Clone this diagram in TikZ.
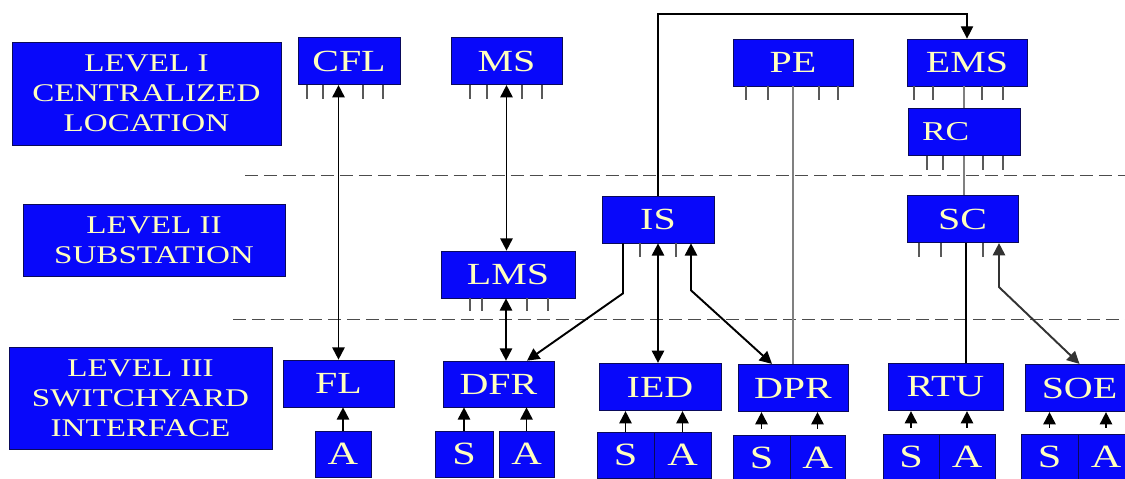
\documentclass[tikz,border=0pt]{standalone}
\usepackage{fontspec}
\setmainfont{Liberation Serif}[FakeStretch=1.3]
\usepackage{xcolor}
\usetikzlibrary{calc, arrows.meta}

\definecolor{boxblue}{RGB}{8,8,250}
\definecolor{boxedge}{RGB}{10,10,90}
\definecolor{boxtext}{RGB}{255,255,190}

\begin{document}
\begin{tikzpicture}[x=0.02cm, y=-0.02cm, >={Triangle[length=7pt,width=7pt]},
    box/.style={draw=boxedge, fill=boxblue, text=boxtext, inner sep=0pt,
        minimum height=0.95cm, font=\fontsize{17.5}{19}\selectfont},
    lvl/.style={box, align=center, font=\fontsize{14.5}{17}\selectfont},
    sa/.style={box, minimum height=0.92cm, font=\fontsize{18.5}{20}\selectfont},
    stub/.style={draw=gray!70!black, line width=0.6pt},
    link/.style={line width=0.6pt},
    arr/.style={line width=1.1pt, ->},
    twoway/.style={line width=1.1pt, <->},
    divider/.style={gray!60!black, line width=0.5pt, dash pattern=on 7.4pt off 3.4pt}]

    % =================================================================
    % 0. KHUNG HINH
    % =================================================================
    \useasboundingbox (0,0) rectangle (1125,479);
    \clip (0,0) rectangle (1125,479);

    % =================================================================
    % 1. DUONG PHAN CACH CAC CAP
    % =================================================================
    \draw[divider] (245,175) -- (1125,175);
    \draw[divider] (233,319) -- (1125,319);

    % =================================================================
    % 2. NHAN CAC CAP
    % =================================================================
    \node[lvl, minimum width=5.38cm, minimum height=2.06cm] (lvlI) at (146.5,93.5) {LEVEL I\\CENTRALIZED\\LOCATION};
    \node[lvl, minimum width=5.24cm, minimum height=1.44cm] (lvlII) at (154,240) {LEVEL II\\SUBSTATION};
    \node[lvl, minimum width=5.26cm, minimum height=2.04cm] (lvlIII) at (140.5,398) {LEVEL III\\SWITCHYARD\\INTERFACE};

    % =================================================================
    % 3. CAP I
    % =================================================================
    \node[box, minimum width=2.04cm] (cfl) at (349,61) {CFL};
    \node[box, minimum width=2.22cm] (ms) at (506.5,61) {MS};
    \node[box, minimum width=2.40cm, minimum height=0.94cm] (pe) at (793,62.5) {PE};
    \node[box, minimum width=2.40cm, minimum height=0.94cm] (ems) at (967,62.5) {EMS};
    \node[box, text width=1.68cm, inner xsep=0.28cm, align=left,
          font=\fontsize{15.5}{17}\selectfont] (rc) at (964,132) {RC};

    % =================================================================
    % 4. CAP II
    % =================================================================
    \node[box, minimum width=2.68cm, minimum height=0.94cm] (lms) at (508,274.5) {LMS};
    \node[box, minimum width=2.24cm, minimum height=0.94cm] (is) at (658,219.5) {IS};
    \node[box, minimum width=2.22cm] (sc) at (962.5,219) {SC};

    % =================================================================
    % 5. CAP III
    % =================================================================
    \node[box, minimum width=2.22cm, minimum height=0.94cm] (fl) at (338.5,383.5) {FL};
    \node[box, minimum width=2.22cm, minimum height=0.92cm] (dfr) at (498.5,384) {DFR};
    \node[box, minimum width=2.44cm] (ied) at (660,387) {IED};
    \node[box, minimum width=2.20cm] (dpr) at (793,388) {DPR};
    \node[box, minimum width=2.30cm] (rtu) at (945.5,387) {RTU};
    \node[box, minimum width=2.18cm] (soe) at (1079.5,388) {SOE};

    % cac o S va A phia duoi
    \node[sa, minimum width=1.12cm] (flA) at (343,454) {A};
    \node[sa, minimum width=1.16cm] (dfrS) at (464,454) {S};
    \node[sa, minimum width=1.10cm] (dfrA) at (526.5,454) {A};
    \node[sa, minimum width=1.14cm] (iedS) at (625.5,455) {S};
    \node[sa, minimum width=1.14cm] (iedA) at (682.5,455) {A};
    \node[sa, minimum width=1.14cm] (dprS) at (761.5,458) {S};
    \node[sa, minimum width=1.10cm] (dprA) at (817.5,458) {A};
    \node[sa, minimum width=1.12cm] (rtuS) at (911,457) {S};
    \node[sa, minimum width=1.12cm] (rtuA) at (967,457) {A};
    \node[sa, minimum width=1.14cm] (soeS) at (1049.5,457) {S};
    \node[sa, minimum width=1.12cm] (soeA) at (1106,457) {A};

    % =================================================================
    % 6. CHAN CAM DUOI CAC KHOI
    % =================================================================
    \foreach \dx in {-42,-26,14,34} \draw[stub] (cfl.south) ++(\dx,0) -- ++(0,14);
    \foreach \dx in {-36.5,-19.5,15.5,35.5} \draw[stub] (ms.south) ++(\dx,0) -- ++(0,14);
    \foreach \dx in {-47,-25,26,45} \draw[stub] (pe.south) ++(\dx,0) -- ++(0,14);
    \foreach \dx in {-53,-34,15,36} \draw[stub] (ems.south) ++(\dx,0) -- ++(0,14);
    \foreach \dx in {-37,-21,19,39} \draw[stub] (rc.south) ++(\dx,0) -- ++(0,14);
    \foreach \dx in {-38,-26,19,40} \draw[stub] (lms.south) ++(\dx,0) -- ++(0,13);
    \foreach \dx in {-18,18} \draw[stub] (is.south) ++(\dx,0) -- ++(0,14);
    \foreach \dx in {-43.5,-21.5,20.5} \draw[stub] (sc.south) ++(\dx,0) -- ++(0,14);

    % =================================================================
    % 7. DUONG NOI GIUA CAC CAP
    % =================================================================
    \coordinate (bus) at (0,14);
    \draw[link, ->] (is.north) |- (bus -| ems.north) -- (ems.north);
    \draw[link, gray] (pe.south) -- (pe.south |- dpr.north);
    \draw[link, gray] (ems.south -| rc.north) -- (rc.north);
    \draw[link, gray] (rc.south) -- (rc.south |- sc.north);
    \draw[link] ($(sc.south)+(3.5,0)$) -- ($(sc.south |- rtu.north)+(3.5,0)$);

    \draw[twoway] (fl.north |- cfl.south) -- (fl.north);
    \draw[twoway] (ms.south) -- (ms.south |- lms.north);
    \draw[twoway] ($(lms.south)+(-2,0)$) -- ($(lms.south |- dfr.north)+(-2,0)$);
    \draw[twoway] (is.south) -- (is.south |- ied.north);
    \draw[arr] ($(is.south)+(-35,0)$) -- ++(0,50) -- ($(dfr.north)+(28.5,0)$);
    \draw[twoway] ($(is.south)+(33,0)$) -- ++(0,47) -- ($(dpr.north)+(-21,0)$);
    \draw[twoway, gray!40!black] ($(sc.south)+(36.5,0)$) -- ++(0,44) -- (soe.north);

    % =================================================================
    % 8. MUI TEN TU S, A LEN KHOI
    % =================================================================
    \draw[arr] (flA.north) -- (flA.north |- fl.south);
    \foreach \n/\m in {dfrS/dfr, dfrA/dfr, iedS/ied, iedA/ied}
        \draw[arr] (\n.north) -- (\n.north |- \m.south);
    \foreach \n/\m in {dprS/dpr, dprA/dpr, rtuS/rtu, rtuA/rtu, soeS/soe, soeA/soe}
        \draw[arr] ($(\n.north)+(0,-6)$) -- (\n.north |- \m.south);

\end{tikzpicture}
\end{document}
